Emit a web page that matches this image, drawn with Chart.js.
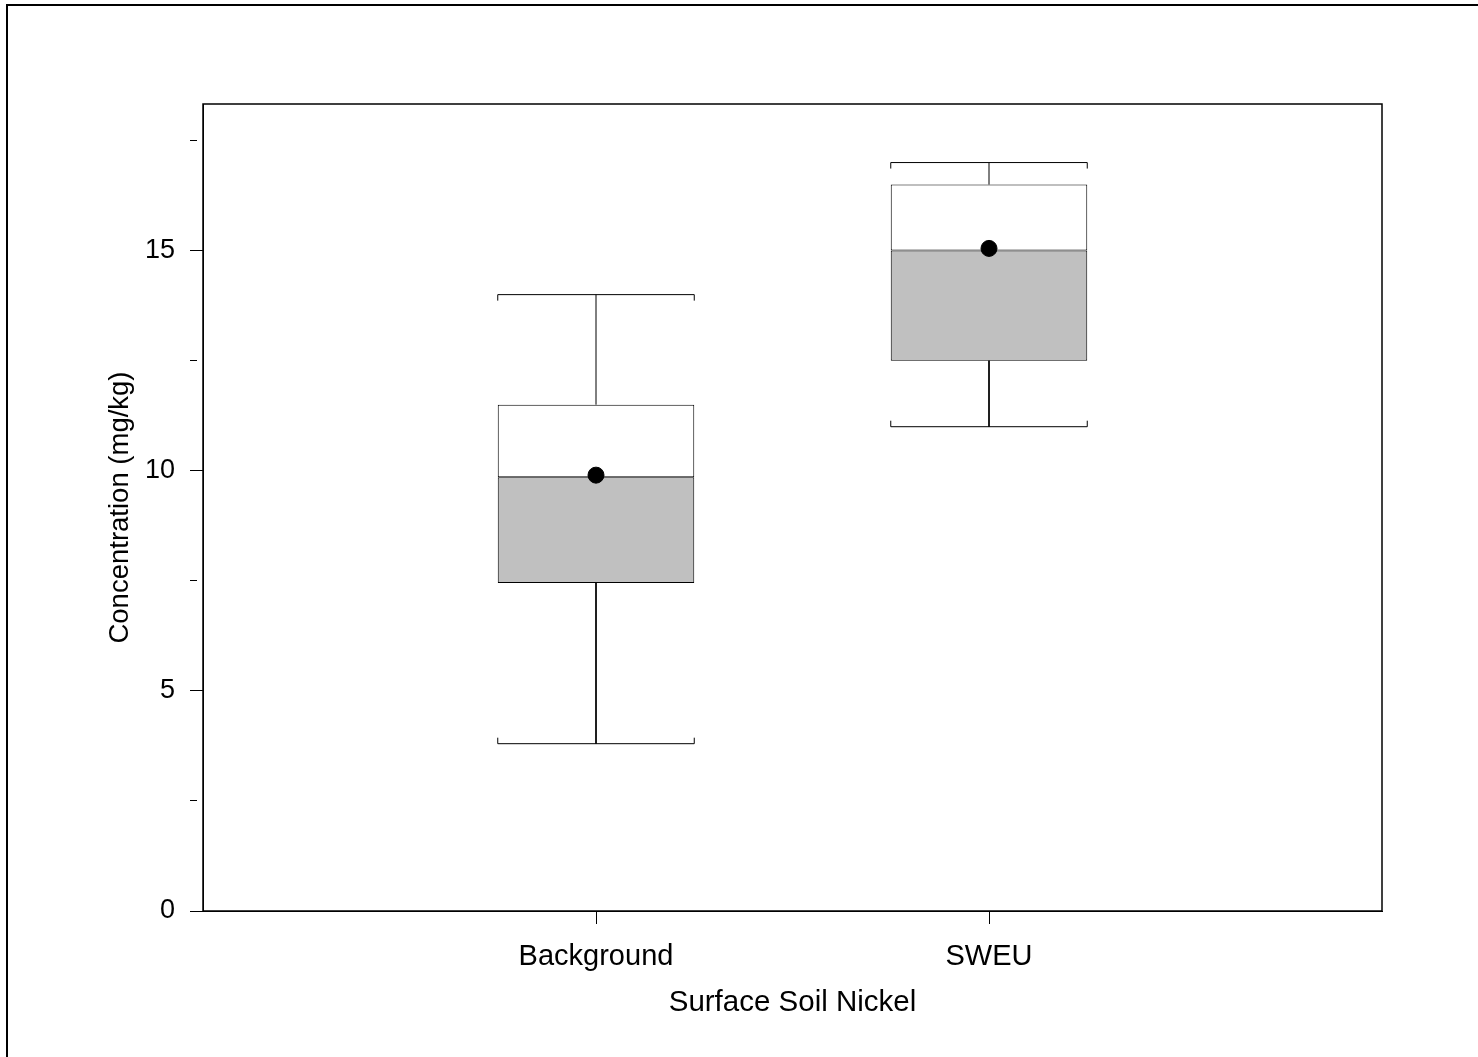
<!DOCTYPE html>
<html>
<head>
<meta charset="utf-8">
<title>Surface Soil Nickel</title>
<script src="https://cdn.jsdelivr.net/npm/chart.js@4.4.1/dist/chart.umd.min.js"></script>
<style>
  html, body { margin: 0; padding: 0; background: #fff; }
  canvas { display: block; }
</style>
</head>
<body>
<canvas id="chart" width="1478" height="1057"></canvas>
<script>
// box plot summary, one entry per group
const groups = ["Background", "SWEU"]
const groupPos = [1, 2]
const lowWhisker = [3.8, 11.0]
const lowerQuartile = [7.45, 12.5]
const medians = [9.85, 15.0]
const upperQuartile = [11.5, 16.5]
const highWhisker = [14.0, 17.0]
const means = [9.9, 15.05]
const yTickLabels = [0, 5, 10, 15]

const boxWidth = 0.5   // in group units
const capTick = 6      // px, little hooks at whisker cap ends

Chart.defaults.font.family = "'Liberation Sans', Arial, sans-serif"
Chart.defaults.color = "#000"

function whiskerPoints() {
  const pts = []
  const h = boxWidth / 2
  groupPos.forEach((x, i) => {
    pts.push({ x: x, y: upperQuartile[i] }, { x: x, y: highWhisker[i] }, { x: x, y: null })
    pts.push({ x: x, y: lowerQuartile[i] }, { x: x, y: lowWhisker[i] }, { x: x, y: null })
    pts.push({ x: x - h, y: highWhisker[i] }, { x: x + h, y: highWhisker[i] }, { x: x, y: null })
    pts.push({ x: x - h, y: lowWhisker[i] }, { x: x + h, y: lowWhisker[i] }, { x: x, y: null })
  })
  return pts
}

const framePlugin = {
  id: "frame",
  beforeDraw(chart) {
    const ctx = chart.ctx
    ctx.save()
    ctx.fillStyle = "#fff"
    ctx.fillRect(0, 0, chart.width, chart.height)
    ctx.fillStyle = "#000"
    ctx.fillRect(6, 4, 2, chart.height - 4)
    ctx.fillRect(6, 4, chart.width - 6, 2)
    ctx.restore()
  },
  afterDatasetsDraw(chart) {
    const { ctx, chartArea: a, scales } = chart
    const h = boxWidth / 2
    ctx.save()
    ctx.strokeStyle = "#000"
    ctx.lineWidth = 1
    // hooks on the whisker caps
    groupPos.forEach((x, i) => {
      const xl = scales.x.getPixelForValue(x - h)
      const xr = scales.x.getPixelForValue(x + h)
      const yh = scales.y.getPixelForValue(highWhisker[i])
      const yl = scales.y.getPixelForValue(lowWhisker[i])
      ctx.beginPath()
      ctx.moveTo(xl, yh); ctx.lineTo(xl, yh + capTick)
      ctx.moveTo(xr, yh); ctx.lineTo(xr, yh + capTick)
      ctx.moveTo(xl, yl); ctx.lineTo(xl, yl - capTick)
      ctx.moveTo(xr, yl); ctx.lineTo(xr, yl - capTick)
      ctx.stroke()
    })
    // plot frame
    ctx.lineWidth = 1.5
    ctx.strokeRect(a.left, a.top, a.right - a.left, a.bottom - a.top)
    ctx.restore()
  }
}

const data = {
  datasets: [
    {
      type: "line",
      label: "Mean",
      data: groupPos.map((x, i) => ({ x: x, y: means[i] })),
      showLine: false,
      pointRadius: 8,
      pointBackgroundColor: "#000",
      pointBorderColor: "#000",
      order: 0
    },
    {
      type: "line",
      label: "Whiskers",
      data: whiskerPoints(),
      borderColor: "#000",
      borderWidth: 1,
      pointRadius: 0,
      spanGaps: false,
      order: 1
    },
    {
      type: "bar",
      label: "Lower box",
      data: groupPos.map((x, i) => ({ x: x, y: [lowerQuartile[i], medians[i]] })),
      backgroundColor: "#c0c0c0",
      borderColor: "#000",
      borderWidth: 1,
      borderSkipped: false,
      grouped: false,
      categoryPercentage: boxWidth,
      barPercentage: 1,
      order: 2
    },
    {
      type: "bar",
      label: "Upper box",
      data: groupPos.map((x, i) => ({ x: x, y: [medians[i], upperQuartile[i]] })),
      backgroundColor: "#fff",
      borderColor: "#000",
      borderWidth: 1,
      borderSkipped: false,
      grouped: false,
      categoryPercentage: boxWidth,
      barPercentage: 1,
      order: 2
    }
  ]
}

const config = {
  type: "bar",
  data: data,
  options: {
    responsive: false,
    animation: false,
    devicePixelRatio: 1,
    layout: {
      padding: { left: 0, top: 104, right: 96, bottom: 0 }
    },
    plugins: {
      legend: { display: false },
      tooltip: { enabled: false }
    },
    scales: {
      x: {
        type: "linear",
        min: 0,
        max: 3,
        offset: false,
        afterBuildTicks: (scale) => {
          scale.ticks = groupPos.map(v => ({ value: v }))
        },
        afterFit: (scale) => { scale.height = 146 },
        ticks: {
          font: { size: 29 },
          padding: 16,
          maxRotation: 0,
          autoSkip: false,
          callback: (v) => groups[groupPos.indexOf(v)]
        },
        grid: {
          offset: false,
          drawOnChartArea: false,
          drawTicks: true,
          tickLength: 13,
          color: "#000"
        },
        border: { display: true, color: "#000" },
        title: {
          display: true,
          text: "Surface Soil Nickel",
          font: { size: 29.5 },
          padding: { top: 0, bottom: 36 }
        }
      },
      y: {
        type: "linear",
        min: 0,
        max: 18.33,
        afterFit: (scale) => { scale.width = 203 },
        ticks: {
          stepSize: 2.5,
          includeBounds: false,
          font: { size: 27 },
          padding: 15,
          callback: (v) => yTickLabels.includes(v) ? v : ""
        },
        grid: {
          drawOnChartArea: false,
          drawTicks: true,
          tickLength: 13,
          color: "#000",
          // unlabelled ticks are drawn short
          tickBorderDash: (ctx) => yTickLabels.includes(ctx.tick.value) ? [] : [7, 100]
        },
        border: { display: true, color: "#000" },
        title: {
          display: true,
          text: "Concentration (mg/kg)",
          font: { size: 27.5 },
          padding: { top: 103.5, bottom: 0 }
        }
      }
    }
  },
  plugins: [framePlugin]
}

document.addEventListener("DOMContentLoaded", () => {
  new Chart(document.querySelector("#chart"), config)
})
</script>
</body>
</html>
